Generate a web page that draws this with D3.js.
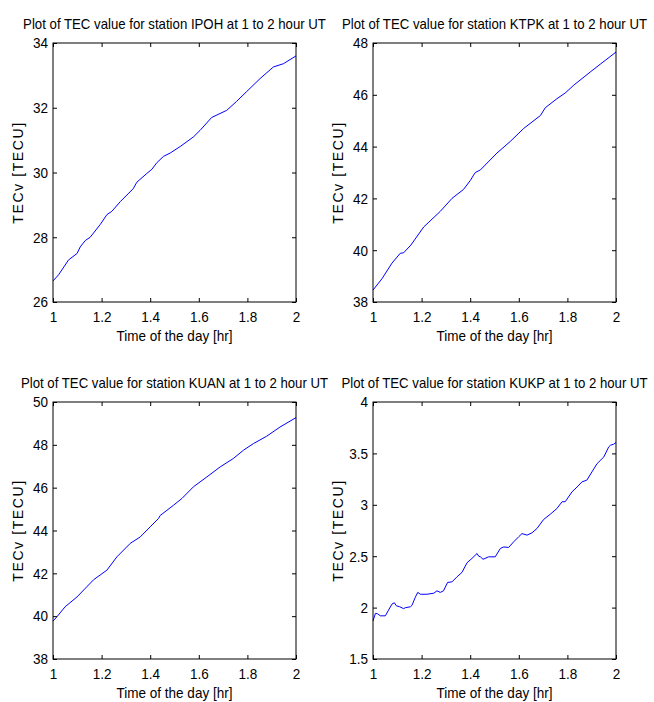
<!DOCTYPE html>
<html>
<head>
<meta charset="utf-8">
<script src="https://cdn.jsdelivr.net/npm/d3@7"></script>
<style>
  body { margin: 0; background: #fff; }
  svg text { font-family: "Liberation Sans", Arial, sans-serif; fill: #000; }
</style>
</head>
<body>
<svg id="fig" width="654" height="702"></svg>
<script>
// TEC readings [hour, TECU]
var ipoh = [[1,26.65],[1.023,26.84],[1.064,27.3],[1.099,27.5],[1.112,27.7],[1.133,27.9],[1.153,28.0],
  [1.195,28.4],[1.222,28.7],[1.242,28.8],[1.277,29.1],[1.33,29.5],[1.345,29.7],[1.386,29.97],
  [1.407,30.1],[1.427,30.3],[1.455,30.5],[1.482,30.6],[1.523,30.8],[1.578,31.1],[1.605,31.3],
  [1.653,31.7],[1.715,31.92],[1.756,32.2],[1.797,32.5],[1.852,32.9],[1.907,33.26],[1.948,33.36],[2,33.6]];
var ktpk = [[1,38.46],[1.037,38.9],[1.078,39.5],[1.112,39.88],[1.126,39.9],[1.156,40.2],[1.209,40.9],
  [1.243,41.2],[1.277,41.5],[1.325,42.0],[1.373,42.35],[1.401,42.7],[1.414,42.9],[1.421,43.0],
  [1.442,43.1],[1.51,43.75],[1.565,44.2],[1.62,44.7],[1.689,45.2],[1.709,45.5],[1.757,45.85],
  [1.791,46.07],[1.826,46.37],[1.894,46.88],[1.935,47.18],[2,47.65]];
var kuan = [[1,39.77],[1.016,39.97],[1.05,40.44],[1.099,40.9],[1.167,41.7],[1.222,42.15],[1.263,42.77],
  [1.318,43.4],[1.359,43.7],[1.4,44.17],[1.434,44.56],[1.441,44.7],[1.496,45.18],[1.531,45.5],
  [1.578,46.04],[1.633,46.5],[1.688,46.97],[1.742,47.36],[1.784,47.75],[1.825,48.06],[1.879,48.4],
  [1.934,48.83],[2,49.27]];
var kukp = [[1,1.87],[1.01,1.944],[1.019,1.94],[1.03,1.92],[1.051,1.92],[1.064,1.976],[1.078,2.034],
  [1.088,2.047],[1.096,2.018],[1.11,2.008],[1.126,1.99],[1.133,1.999],[1.154,2.008],[1.16,2.02],
  [1.174,2.1],[1.184,2.148],[1.195,2.13],[1.222,2.13],[1.25,2.14],[1.263,2.163],[1.277,2.148],
  [1.29,2.163],[1.307,2.245],[1.325,2.25],[1.346,2.3],[1.366,2.342],[1.387,2.436],[1.407,2.478],
  [1.428,2.526],[1.435,2.5],[1.442,2.494],[1.453,2.47],[1.476,2.494],[1.503,2.494],[1.524,2.575],
  [1.538,2.59],[1.558,2.585],[1.579,2.64],[1.6,2.69],[1.613,2.72],[1.634,2.705],[1.654,2.727],
  [1.675,2.77],[1.702,2.857],[1.73,2.909],[1.757,2.964],[1.778,3.03],[1.791,3.03],[1.819,3.126],
  [1.84,3.174],[1.86,3.223],[1.88,3.24],[1.901,3.32],[1.922,3.40],[1.95,3.466],[1.97,3.563],
  [1.977,3.579],[1.99,3.589],[2,3.605]];

var stations = ["IPOH", "KTPK", "KUAN", "KUKP"];
var xTicks = [1, 1.2, 1.4, 1.6, 1.8, 2];
var yTicks = [
  [26, 28, 30, 32, 34],
  [38, 40, 42, 44, 46, 48],
  [38, 40, 42, 44, 46, 48, 50],
  [1.5, 2, 2.5, 3, 3.5, 4]
];
var series = [ipoh, ktpk, kuan, kukp];

// subplot boxes (left, top, right, bottom)
var boxes = [
  [53, 43, 296, 302],
  [373, 43, 616, 302],
  [53, 402, 296, 659],
  [373, 402, 616, 659]
];

var fig = d3.select("#fig");

// squeeze text horizontally, the source looks narrower than Arial
function squeeze(sel, k) {
  sel.each(function () {
    var w = this.getComputedTextLength();
    d3.select(this).attr("textLength", w * k).attr("lengthAdjust", "spacingAndGlyphs");
  });
}

var fs = 15, k = 0.9;

boxes.forEach(function (b, i) {
  var w = b[2] - b[0], h = b[3] - b[1];
  var g = fig.append("g").attr("transform", `translate(${b[0]},${b[1]})`);
  var yt = yTicks[i];

  var x = d3.scaleLinear().domain([1, 2]).range([0, w]);
  var y = d3.scaleLinear().domain([yt[0], yt[yt.length - 1]]).range([h, 0]);

  // the curve first, so the frame sits on top
  g.append("path")
    .datum(series[i])
    .attr("fill", "none")
    .attr("stroke", "#0000ff")
    .attr("stroke-width", 1)
    .attr("d", d3.line().x(d => x(d[0])).y(d => y(d[1])));

  var fmt = d => String(+d.toFixed(2));
  var tk = 4;

  var ax = g.append("g").attr("transform", `translate(0,${h})`)
    .call(d3.axisBottom(x).tickValues(xTicks).tickSize(-tk).tickPadding(9).tickFormat(fmt));
  var axTop = g.append("g")
    .call(d3.axisTop(x).tickValues(xTicks).tickSize(-tk).tickFormat(""));
  var ay = g.append("g")
    .call(d3.axisLeft(y).tickValues(yt).tickSize(-tk).tickPadding(5).tickFormat(fmt));
  var ayR = g.append("g").attr("transform", `translate(${w},0)`)
    .call(d3.axisRight(y).tickValues(yt).tickSize(-tk).tickFormat(""));

  [ax, axTop, ay, ayR].forEach(function (a) {
    a.select(".domain").remove();
    a.selectAll(".tick line").attr("stroke", "#000").attr("stroke-width", 1);
  });
  ax.selectAll("text").attr("font-size", fs).attr("fill", "#000").call(squeeze, k);
  ay.selectAll("text").attr("font-size", fs).attr("fill", "#000").call(squeeze, k);

  g.append("rect")
    .attr("width", w).attr("height", h)
    .attr("fill", "none").attr("stroke", "#000").attr("stroke-width", 1);

  g.append("text")
    .attr("x", w / 2).attr("y", -14)
    .attr("text-anchor", "middle")
    .attr("font-size", fs)
    .text(`Plot of TEC value for station ${stations[i]} at 1 to 2 hour UT`)
    .call(squeeze, 0.88);

  g.append("text")
    .attr("x", w / 2).attr("y", h + 39)
    .attr("text-anchor", "middle")
    .attr("font-size", fs)
    .text("Time of the day [hr]")
    .call(squeeze, k);

  g.append("text")
    .attr("transform", `translate(-30,${h / 2}) rotate(-90)`)
    .attr("text-anchor", "middle")
    .attr("font-size", 14)
    .attr("letter-spacing", 1.6)
    .text("TECv [TECU]");
});
</script>
</body>
</html>
